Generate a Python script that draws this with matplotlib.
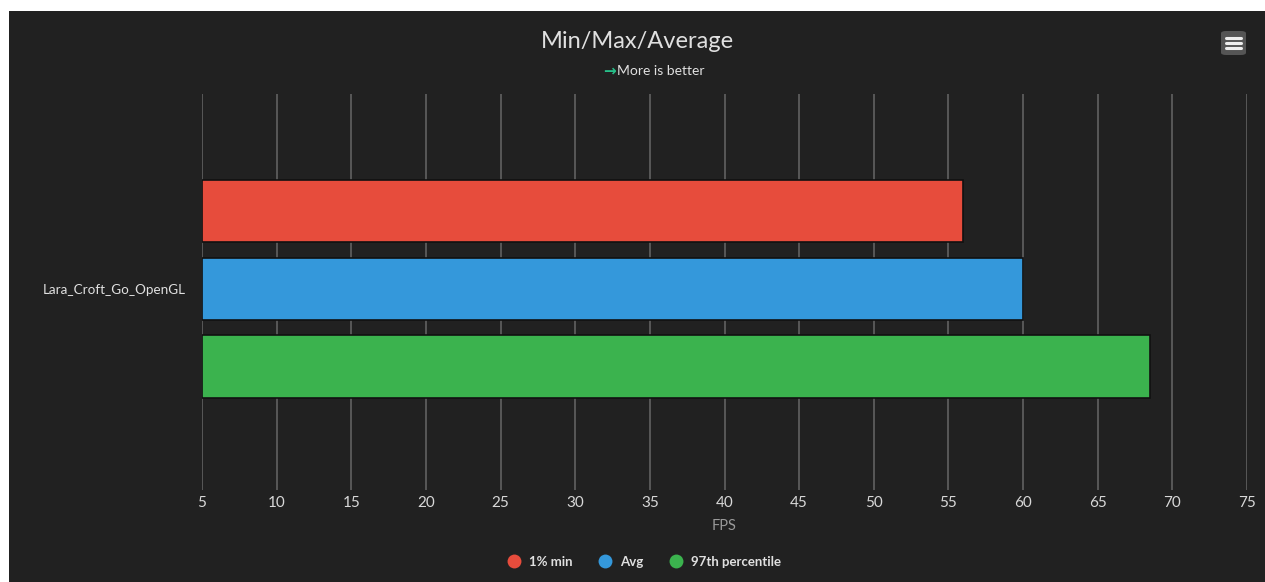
import matplotlib
matplotlib.use("Agg")
import matplotlib.pyplot as plt
from matplotlib.patches import Rectangle, FancyBboxPatch
from matplotlib.lines import Line2D

# data
category = "Lara_Croft_Go_OpenGL"
series = ["1% min", "Avg", "97th percentile"]
values = [56.0, 60.0, 68.5]
colors = ["#e74c3c", "#3498db", "#3bb34e"]
xticks = [5, 10, 15, 20, 25, 30, 35, 40, 45, 50, 55, 60, 65, 70, 75]

bg = "#212121"
W, H = 1265, 582

plt.rcParams['font.family'] = ['Lato', 'DejaVu Sans']

fig = plt.figure(figsize=(W / 100, H / 100), dpi=100, facecolor="white")
# dark panel, with the white strip on top and left as in the screenshot
fig.patches.append(Rectangle((9 / W, 0), 1 - 9 / W, 1 - 11 / H, transform=fig.transFigure,
                             facecolor=bg, edgecolor="none", zorder=-5))

ax = fig.add_axes([202 / W, 1 - 490 / H, (1247 - 202) / W, (490 - 94) / H])
ax.set_facecolor(bg)

offsets = [0.196, 0.0, -0.196]
for name, v, c, off in zip(series, values, colors, offsets):
    ax.barh(off, v - xticks[0], left=xticks[0], height=0.157, color=c,
            edgecolor="#111111", linewidth=1.2, label=name, zorder=3)

ax.set_xlim(xticks[0], xticks[-1])
ax.set_ylim(-0.508, 0.492)
ax.set_xticks(xticks)
ax.set_xticklabels([str(t) for t in xticks], color="#d8d8d8", fontsize=11)
ax.set_yticks([0])
ax.set_yticklabels([category], color="#e0e0e0", fontsize=9.7)
ax.tick_params(axis="x", length=0, pad=4.5)
ax.tick_params(axis="y", length=0, pad=12)
ax.grid(axis="x", color="#5c5c5c", linewidth=1.3, zorder=0)
for s in ax.spines.values():
    s.set_visible(False)
ax.set_xlabel("FPS", color="#9a9a9a", fontsize=10.5, labelpad=6)

# title and subtitle
fig.text(0.5 * (9 / W + 1), 1 - 41 / H, "Min/Max/Average", ha="center", va="center",
         color="#e0e0e0", fontsize=17)
fig.text(616 / W, 1 - 71 / H, "\u2192", ha="right", va="center", color="#27c08a",
         fontsize=11, fontweight="bold", family=['DejaVu Sans'])
fig.text(617 / W, 1 - 71 / H, "More is better", ha="left", va="center",
         color="#e0e0e0", fontsize=10)

# menu button
fig.patches.append(FancyBboxPatch((1221 / W, 1 - 55 / H), 25 / W, 24 / H,
                                  boxstyle="round,pad=0,rounding_size=0.004",
                                  transform=fig.transFigure, facecolor="#555555",
                                  edgecolor="none"))
for yy in (38, 43, 48):
    fig.lines.append(Line2D([1226 / W, 1241 / W], [1 - yy / H, 1 - yy / H],
                            transform=fig.transFigure, color="#eeeeee",
                            linewidth=2.2, solid_capstyle="round"))

# legend
handles = [Line2D([0], [0], marker="o", linestyle="none", markersize=10,
                  markerfacecolor=c, markeredgecolor="none") for c in colors]
leg = fig.legend(handles, series, loc="center", bbox_to_anchor=(641 / W, 1 - 562 / H),
                 ncol=3, frameon=False, handletextpad=0.1, columnspacing=1.5,
                 prop={"weight": "bold", "size": 9.5})
for t in leg.get_texts():
    t.set_color("#e0e0e0")

fig.savefig("out.png", dpi=100, facecolor=fig.get_facecolor())
